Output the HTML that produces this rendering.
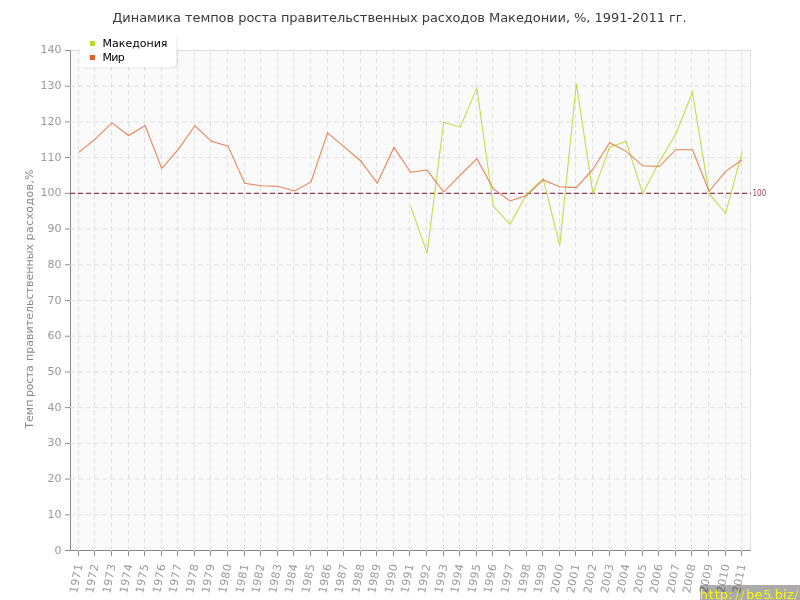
<!DOCTYPE html><html><head><meta charset="utf-8"><style>
html,body{margin:0;padding:0;background:#fff;width:800px;height:600px;overflow:hidden}
svg{display:block;will-change:transform;font-family:"DejaVu Sans","Liberation Sans",sans-serif}
</style></head><body>
<svg width="800" height="600" viewBox="0 0 800 600">
<text x="112.2" y="22" font-size="13" fill="#3a3a3a" textLength="574.5" lengthAdjust="spacing">Динамика темпов роста правительственных расходов Македонии, %, 1991-2011 гг.</text>
<rect x="70.5" y="50.5" width="680" height="500.0" fill="#fafafa" stroke="#ddd" stroke-width="1"/>
<path d="M70.5 50.5V550.5H750.5" stroke="#888" stroke-width="1" fill="none"/>
<path d="M70 514.79H750.5 M70 479.07H750.5 M70 443.36H750.5 M70 407.64H750.5 M70 371.93H750.5 M70 336.21H750.5 M70 300.50H750.5 M70 264.79H750.5 M70 229.07H750.5 M70 193.36H750.5 M70 157.64H750.5 M70 121.93H750.5 M70 86.21H750.5" stroke="#e0e0e0" stroke-width="1" stroke-dasharray="5 3" fill="none"/>
<path d="M78.5 50V551 M94.5 50V551 M111.5 50V551 M128.5 50V551 M144.5 50V551 M161.5 50V551 M177.5 50V551 M194.5 50V551 M210.5 50V551 M227.5 50V551 M244.5 50V551 M260.5 50V551 M277.5 50V551 M293.5 50V551 M310.5 50V551 M327.5 50V551 M343.5 50V551 M360.5 50V551 M376.5 50V551 M393.5 50V551 M409.5 50V551 M426.5 50V551 M443.5 50V551 M459.5 50V551 M476.5 50V551 M492.5 50V551 M509.5 50V551 M526.5 50V551 M542.5 50V551 M559.5 50V551 M575.5 50V551 M592.5 50V551 M609.5 50V551 M625.5 50V551 M642.5 50V551 M658.5 50V551 M675.5 50V551 M691.5 50V551 M708.5 50V551 M725.5 50V551 M741.5 50V551" stroke="#e0e0e0" stroke-width="1" stroke-dasharray="5 3" fill="none"/>
<text x="61.5" y="554" text-anchor="end" font-size="11" fill="#999">0</text>
<text x="61.5" y="518" text-anchor="end" font-size="11" fill="#999">10</text>
<text x="61.5" y="482" text-anchor="end" font-size="11" fill="#999">20</text>
<text x="61.5" y="446" text-anchor="end" font-size="11" fill="#999">30</text>
<text x="61.5" y="411" text-anchor="end" font-size="11" fill="#999">40</text>
<text x="61.5" y="375" text-anchor="end" font-size="11" fill="#999">50</text>
<text x="61.5" y="339" text-anchor="end" font-size="11" fill="#999">60</text>
<text x="61.5" y="304" text-anchor="end" font-size="11" fill="#999">70</text>
<text x="61.5" y="268" text-anchor="end" font-size="11" fill="#999">80</text>
<text x="61.5" y="232" text-anchor="end" font-size="11" fill="#999">90</text>
<text x="61.5" y="196" text-anchor="end" font-size="11" fill="#999">100</text>
<text x="61.5" y="161" text-anchor="end" font-size="11" fill="#999">110</text>
<text x="61.5" y="125" text-anchor="end" font-size="11" fill="#999">120</text>
<text x="61.5" y="89" text-anchor="end" font-size="11" fill="#999">130</text>
<text x="61.5" y="53" text-anchor="end" font-size="11" fill="#999">140</text>
<path d="M65 550.50H70 M65 514.79H70 M65 479.07H70 M65 443.36H70 M65 407.64H70 M65 371.93H70 M65 336.21H70 M65 300.50H70 M65 264.79H70 M65 229.07H70 M65 193.36H70 M65 157.64H70 M65 121.93H70 M65 86.21H70 M65 50.50H70" stroke="#8c8c8c" stroke-width="1" fill="none"/>
<text transform="translate(82.50 565) rotate(-79)" text-anchor="end" font-size="11" fill="#999" textLength="29.3" lengthAdjust="spacing">1971</text>
<text transform="translate(98.50 565) rotate(-79)" text-anchor="end" font-size="11" fill="#999" textLength="29.3" lengthAdjust="spacing">1972</text>
<text transform="translate(115.50 565) rotate(-79)" text-anchor="end" font-size="11" fill="#999" textLength="29.3" lengthAdjust="spacing">1973</text>
<text transform="translate(132.50 565) rotate(-79)" text-anchor="end" font-size="11" fill="#999" textLength="29.3" lengthAdjust="spacing">1974</text>
<text transform="translate(148.50 565) rotate(-79)" text-anchor="end" font-size="11" fill="#999" textLength="29.3" lengthAdjust="spacing">1975</text>
<text transform="translate(165.50 565) rotate(-79)" text-anchor="end" font-size="11" fill="#999" textLength="29.3" lengthAdjust="spacing">1976</text>
<text transform="translate(181.50 565) rotate(-79)" text-anchor="end" font-size="11" fill="#999" textLength="29.3" lengthAdjust="spacing">1977</text>
<text transform="translate(198.50 565) rotate(-79)" text-anchor="end" font-size="11" fill="#999" textLength="29.3" lengthAdjust="spacing">1978</text>
<text transform="translate(214.50 565) rotate(-79)" text-anchor="end" font-size="11" fill="#999" textLength="29.3" lengthAdjust="spacing">1979</text>
<text transform="translate(231.50 565) rotate(-79)" text-anchor="end" font-size="11" fill="#999" textLength="29.3" lengthAdjust="spacing">1980</text>
<text transform="translate(248.50 565) rotate(-79)" text-anchor="end" font-size="11" fill="#999" textLength="29.3" lengthAdjust="spacing">1981</text>
<text transform="translate(264.50 565) rotate(-79)" text-anchor="end" font-size="11" fill="#999" textLength="29.3" lengthAdjust="spacing">1982</text>
<text transform="translate(281.50 565) rotate(-79)" text-anchor="end" font-size="11" fill="#999" textLength="29.3" lengthAdjust="spacing">1983</text>
<text transform="translate(297.50 565) rotate(-79)" text-anchor="end" font-size="11" fill="#999" textLength="29.3" lengthAdjust="spacing">1984</text>
<text transform="translate(314.50 565) rotate(-79)" text-anchor="end" font-size="11" fill="#999" textLength="29.3" lengthAdjust="spacing">1985</text>
<text transform="translate(331.50 565) rotate(-79)" text-anchor="end" font-size="11" fill="#999" textLength="29.3" lengthAdjust="spacing">1986</text>
<text transform="translate(347.50 565) rotate(-79)" text-anchor="end" font-size="11" fill="#999" textLength="29.3" lengthAdjust="spacing">1987</text>
<text transform="translate(364.50 565) rotate(-79)" text-anchor="end" font-size="11" fill="#999" textLength="29.3" lengthAdjust="spacing">1988</text>
<text transform="translate(380.50 565) rotate(-79)" text-anchor="end" font-size="11" fill="#999" textLength="29.3" lengthAdjust="spacing">1989</text>
<text transform="translate(397.50 565) rotate(-79)" text-anchor="end" font-size="11" fill="#999" textLength="29.3" lengthAdjust="spacing">1990</text>
<text transform="translate(413.50 565) rotate(-79)" text-anchor="end" font-size="11" fill="#999" textLength="29.3" lengthAdjust="spacing">1991</text>
<text transform="translate(430.50 565) rotate(-79)" text-anchor="end" font-size="11" fill="#999" textLength="29.3" lengthAdjust="spacing">1992</text>
<text transform="translate(447.50 565) rotate(-79)" text-anchor="end" font-size="11" fill="#999" textLength="29.3" lengthAdjust="spacing">1993</text>
<text transform="translate(463.50 565) rotate(-79)" text-anchor="end" font-size="11" fill="#999" textLength="29.3" lengthAdjust="spacing">1994</text>
<text transform="translate(480.50 565) rotate(-79)" text-anchor="end" font-size="11" fill="#999" textLength="29.3" lengthAdjust="spacing">1995</text>
<text transform="translate(496.50 565) rotate(-79)" text-anchor="end" font-size="11" fill="#999" textLength="29.3" lengthAdjust="spacing">1996</text>
<text transform="translate(513.50 565) rotate(-79)" text-anchor="end" font-size="11" fill="#999" textLength="29.3" lengthAdjust="spacing">1997</text>
<text transform="translate(530.50 565) rotate(-79)" text-anchor="end" font-size="11" fill="#999" textLength="29.3" lengthAdjust="spacing">1998</text>
<text transform="translate(546.50 565) rotate(-79)" text-anchor="end" font-size="11" fill="#999" textLength="29.3" lengthAdjust="spacing">1999</text>
<text transform="translate(563.50 565) rotate(-79)" text-anchor="end" font-size="11" fill="#999" textLength="29.3" lengthAdjust="spacing">2000</text>
<text transform="translate(579.50 565) rotate(-79)" text-anchor="end" font-size="11" fill="#999" textLength="29.3" lengthAdjust="spacing">2001</text>
<text transform="translate(596.50 565) rotate(-79)" text-anchor="end" font-size="11" fill="#999" textLength="29.3" lengthAdjust="spacing">2002</text>
<text transform="translate(613.50 565) rotate(-79)" text-anchor="end" font-size="11" fill="#999" textLength="29.3" lengthAdjust="spacing">2003</text>
<text transform="translate(629.50 565) rotate(-79)" text-anchor="end" font-size="11" fill="#999" textLength="29.3" lengthAdjust="spacing">2004</text>
<text transform="translate(646.50 565) rotate(-79)" text-anchor="end" font-size="11" fill="#999" textLength="29.3" lengthAdjust="spacing">2005</text>
<text transform="translate(662.50 565) rotate(-79)" text-anchor="end" font-size="11" fill="#999" textLength="29.3" lengthAdjust="spacing">2006</text>
<text transform="translate(679.50 565) rotate(-79)" text-anchor="end" font-size="11" fill="#999" textLength="29.3" lengthAdjust="spacing">2007</text>
<text transform="translate(695.50 565) rotate(-79)" text-anchor="end" font-size="11" fill="#999" textLength="29.3" lengthAdjust="spacing">2008</text>
<text transform="translate(712.50 565) rotate(-79)" text-anchor="end" font-size="11" fill="#999" textLength="29.3" lengthAdjust="spacing">2009</text>
<text transform="translate(729.50 565) rotate(-79)" text-anchor="end" font-size="11" fill="#999" textLength="29.3" lengthAdjust="spacing">2010</text>
<text transform="translate(745.50 565) rotate(-79)" text-anchor="end" font-size="11" fill="#999" textLength="29.3" lengthAdjust="spacing">2011</text>
<path d="M78.5 551V556 M94.5 551V556 M111.5 551V556 M128.5 551V556 M144.5 551V556 M161.5 551V556 M177.5 551V556 M194.5 551V556 M210.5 551V556 M227.5 551V556 M244.5 551V556 M260.5 551V556 M277.5 551V556 M293.5 551V556 M310.5 551V556 M327.5 551V556 M343.5 551V556 M360.5 551V556 M376.5 551V556 M393.5 551V556 M409.5 551V556 M426.5 551V556 M443.5 551V556 M459.5 551V556 M476.5 551V556 M492.5 551V556 M509.5 551V556 M526.5 551V556 M542.5 551V556 M559.5 551V556 M575.5 551V556 M592.5 551V556 M609.5 551V556 M625.5 551V556 M642.5 551V556 M658.5 551V556 M675.5 551V556 M691.5 551V556 M708.5 551V556 M725.5 551V556 M741.5 551V556" stroke="#8c8c8c" stroke-width="1" fill="none"/>
<text transform="translate(33 0) rotate(-90)" font-size="11" fill="#888"><tspan x="-428.80" textLength="29.25" lengthAdjust="spacing">Темп</tspan> <tspan x="-397.00" textLength="31.80" lengthAdjust="spacing">роста</tspan> <tspan x="-361.00" textLength="117.00" lengthAdjust="spacing">правительственных</tspan> <tspan x="-240.40" textLength="71.10" lengthAdjust="spacing">расходов,%</tspan></text>
<path d="M70 193.36H751" stroke="#9a3d58" stroke-width="1.2" stroke-dasharray="5 3" fill="none"/>
<text x="752.5" y="195.56" font-size="8" fill="#a3475a" textLength="13.8" lengthAdjust="spacingAndGlyphs">100</text>
<polyline points="410.50,205.80 427.09,252.94 443.67,122.23 460.26,127.23 476.84,88.12 493.43,206.30 510.01,224.30 526.60,194.37 543.18,178.66 559.77,245.62 576.35,83.66 592.94,193.66 609.52,147.23 626.11,141.51 642.70,193.66 659.28,161.87 675.87,134.01 692.45,92.23 709.04,193.66 725.62,213.48 742.21,151.51" fill="none" stroke="#c0dc48" stroke-width="1.05" stroke-linejoin="miter"/>
<polyline points="78.79,152.41 95.38,138.84 111.96,122.84 128.55,135.51 145.13,125.51 161.72,168.48 178.30,149.37 194.89,125.80 211.48,141.34 228.06,146.16 244.65,183.30 261.23,185.80 277.82,186.16 294.40,190.98 310.99,181.87 327.57,132.94 344.16,146.87 360.74,160.98 377.33,183.30 393.91,147.41 410.50,172.23 427.09,170.09 443.67,192.05 460.26,175.09 476.84,158.66 493.43,189.01 510.01,200.98 526.60,195.62 543.18,179.91 559.77,186.69 576.35,187.59 592.94,169.19 609.52,142.69 626.11,151.37 642.70,165.80 659.28,166.51 675.87,149.73 692.45,149.73 709.04,191.30 725.62,171.30 742.21,159.73" fill="none" stroke="#e6733e" stroke-width="1.05" stroke-linejoin="miter" stroke-opacity="0.9"/>
<defs><filter id="sh" x="-10%" y="-20%" width="120%" height="140%"><feGaussianBlur stdDeviation="0.6"/></filter></defs>
<rect x="81" y="36" width="96.5" height="32.5" rx="5" ry="5" fill="#000" fill-opacity="0.09" filter="url(#sh)"/>
<rect x="80" y="35" width="96.5" height="32.5" rx="5" ry="5" fill="#fff"/>
<rect x="90" y="41" width="5" height="5" fill="#b8d830"/>
<rect x="90" y="55" width="5" height="5" fill="#e2622a"/>
<text x="102.5" y="47" font-size="11" fill="#000">Македония</text>
<text x="102.5" y="61" font-size="11" fill="#000" textLength="22.3" lengthAdjust="spacing">Мир</text>
<rect x="700" y="585" width="100" height="15" fill="#000" fill-opacity="0.33"/>
<text y="599" font-size="13.0" fill="#fafa00"><tspan x="699.82 708.75 714.65 719.72 728.18">http:</tspan><tspan x="734.91 740.31" fill-opacity="0.7">//</tspan><tspan x="746.02 754.58 763.20 770.11 774.72 782.97 787.04">be5.biz</tspan><tspan x="794.01" fill-opacity="0.7">/</tspan></text>
</svg>
</body></html>
